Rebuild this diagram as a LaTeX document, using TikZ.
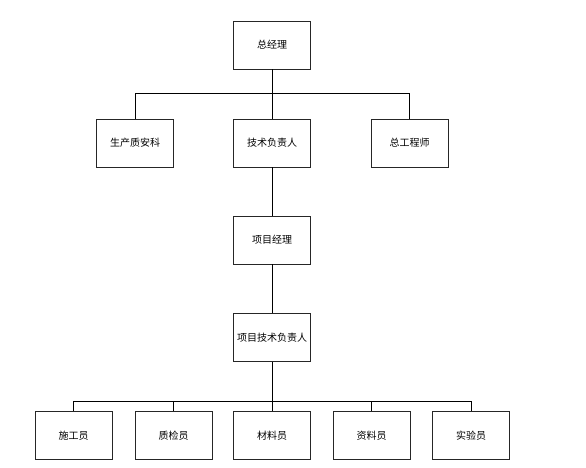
\documentclass[tikz,border=0pt]{standalone}
\usepackage{fontspec}
\newfontfamily\cjk{Noto Sans CJK SC}
\begin{document}
\begin{tikzpicture}[x=1pt,y=-1pt,
  box/.style={draw=black!85,line width=0.8pt,minimum width=77pt,minimum height=48pt,inner sep=0pt,font=\cjk\fontsize{10}{12}\selectfont},
  conn/.style={draw=black,line width=0.8pt}]
\useasboundingbox (0,0) rectangle (586,468);
\node[box] (gm)   at (272,45)    {总经理};
\node[box] (scs)  at (135,143)   {生产质安科};
\node[box] (jsfz) at (272,143)   {技术负责人};
\node[box] (zgcs) at (409.5,143) {总工程师};
\node[box] (xmjl) at (272,240)   {项目经理};
\node[box] (xmjs) at (272,337.5) {项目技术负责人};
\node[box] (sgy)  at (73.5,435.5)  {施工员};
\node[box] (zjy)  at (173.5,435.5) {质检员};
\node[box] (cly)  at (272,435.5)   {材料员};
\node[box] (zly)  at (371.5,435.5) {资料员};
\node[box] (syy)  at (471,435.5)   {实验员};
\draw[conn] (gm.south) -- (jsfz.north);
\draw[conn] (scs.north) -- ++(0,-25) -| (zgcs.north);
\draw[conn] (jsfz.south) -- (xmjl.north);
\draw[conn] (xmjl.south) -- (xmjs.north);
\draw[conn] (xmjs.south) -- (cly.north);
\draw[conn] (sgy.north) -- ++(0,-10) -| (syy.north);
\draw[conn] (zjy.north) -- ++(0,-10);
\draw[conn] (zly.north) -- ++(0,-10);
\end{tikzpicture}
\end{document}
